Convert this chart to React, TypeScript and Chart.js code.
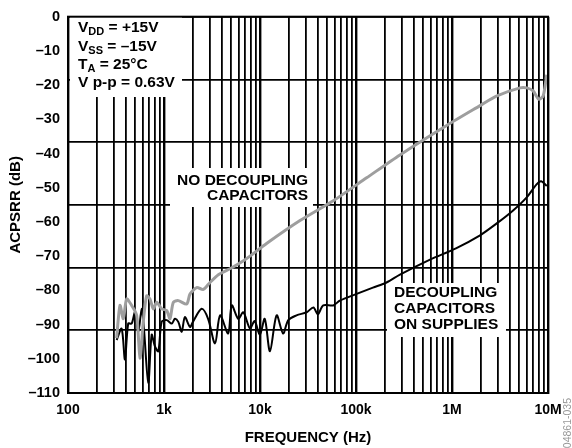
import { useEffect, useRef } from 'react';
import { Chart, registerables } from 'chart.js';

Chart.register(...registerables);

// ---- data ----
const xDecades = [100, 1000, 10000, 100000, 1000000, 10000000];
const xDecadeLabels = ['100', '1k', '10k', '100k', '1M', '10M'];
const yTickValues = [0, -10, -20, -30, -40, -50, -60, -70, -80, -90, -100, -110];
const yGridDivisions = 6;

const noDecFreq = [
  321, 348, 377, 408, 460, 519, 562, 608, 659, 714, 774, 839, 946, 1067, 1155, 1250, 1409, 1722,
  1866, 2191, 2570, 3015, 3680, 5080, 6600, 7860, 11700, 26100, 58000, 129000, 287000, 880000,
  1960000, 2900000, 5100000, 6000000, 7000000, 8000000, 8900000, 9700000,
];
const noDecDb = [
  -94.0, -84.4, -88.3, -82.5, -84.4, -87.3, -99.8, -89.2, -81.6, -82.5, -85.4, -83.5, -85.4, -85.9,
  -88.3, -83.5, -83.0, -84.0, -81.1, -79.2, -79.7, -77.7, -75.4, -73.4, -71.5, -70.0, -66.3, -59.6,
  -53.8, -47.1, -40.4, -31.8, -26.0, -23.2, -20.8, -20.8, -21.7, -24.1, -23.2, -17.0,
];

const decFreq = [
  321, 362, 392, 424, 460, 499, 540, 586, 618, 686, 744, 805, 873, 946, 1067, 1204, 1300, 1409,
  1530, 1650, 1866, 2000, 2470, 2880, 3400, 3840, 4660, 5080, 5940, 6700, 7860, 8800, 9960, 11200,
  12700, 14900, 17400, 19700, 24000, 30600, 36000, 40000, 45600, 58000, 67800, 100000, 150000,
  208000, 287000, 590000, 1100000, 1960000, 2900000, 4300000, 6000000, 7600000, 8500000, 9700000,
];
const decDb = [
  -94.5, -91.2, -100.2, -89.7, -89.7, -86.4, -92.1, -85.4, -91.2, -107.0, -93.0, -96.4, -97.8,
  -89.2, -88.7, -89.7, -88.3, -89.2, -92.1, -87.8, -90.7, -89.2, -85.4, -88.3, -95.5, -87.3, -92.6,
  -84.4, -88.3, -86.4, -91.1, -89.0, -93.0, -88.3, -97.8, -87.3, -92.6, -88.7, -87.3, -86.4, -85.0,
  -87.0, -84.4, -84.4, -83.0, -81.1, -79.2, -77.7, -75.4, -71.0, -67.7, -63.9, -60.5, -56.7, -52.8,
  -49.0, -48.1, -49.5,
];

const FONT = "'Liberation Sans', Arial, Helvetica, sans-serif";

type Part = { t: string; sub?: boolean };

function drawRich(ctx: CanvasRenderingContext2D, x: number, y: number, parts: Part[]) {
  let cx = x;
  for (const p of parts) {
    ctx.font = p.sub ? `bold 11px ${FONT}` : `bold 15.5px ${FONT}`;
    ctx.fillText(p.t, cx, p.sub ? y + 4 : y);
    cx += ctx.measureText(p.t).width;
  }
}

const annotPlugin = {
  id: 'annot',
  beforeDatasetsDraw(chart: any) {
    const ctx: CanvasRenderingContext2D = chart.ctx;
    ctx.save();
    ctx.fillStyle = '#ffffff';
    ctx.fillRect(70, 16, 112, 81);
    ctx.fillRect(170, 168, 143, 39);
    ctx.fillRect(387, 283, 119, 54);
    ctx.fillStyle = '#000000';
    ctx.textBaseline = 'middle';
    ctx.textAlign = 'left';
    drawRich(ctx, 78, 28, [{ t: 'V' }, { t: 'DD', sub: true }, { t: ' = +15V' }]);
    drawRich(ctx, 78, 47, [{ t: 'V' }, { t: 'SS', sub: true }, { t: ' = –15V' }]);
    drawRich(ctx, 78, 65, [{ t: 'T' }, { t: 'A', sub: true }, { t: ' = 25°C' }]);
    drawRich(ctx, 78, 83, [{ t: 'V p-p = 0.63V' }]);
    ctx.font = `bold 15.5px ${FONT}`;
    ctx.textAlign = 'right';
    ctx.fillText('NO DECOUPLING', 308, 181);
    ctx.fillText('CAPACITORS', 308, 196);
    ctx.textAlign = 'left';
    ctx.fillText('DECOUPLING', 394, 293);
    ctx.fillText('CAPACITORS', 394, 309);
    ctx.fillText('ON SUPPLIES', 394, 325);
    ctx.restore();
  },
  afterDatasetsDraw(chart: any) {
    const ctx: CanvasRenderingContext2D = chart.ctx;
    const a = chart.chartArea;
    ctx.save();
    ctx.strokeStyle = '#000';
    ctx.lineWidth = 2;
    ctx.strokeRect(a.left, a.top, a.right - a.left, a.bottom - a.top);
    ctx.restore();
  },
  afterDraw(chart: any) {
    const ctx: CanvasRenderingContext2D = chart.ctx;
    ctx.save();
    ctx.translate(568, 398);
    ctx.rotate(-Math.PI / 2);
    ctx.font = `10.5px ${FONT}`;
    ctx.fillStyle = '#999';
    ctx.textAlign = 'right';
    ctx.textBaseline = 'middle';
    ctx.fillText('04861-035', 0, 0);
    ctx.restore();
  },
};

export default function App() {
  const ref = useRef<HTMLCanvasElement | null>(null);
  useEffect(() => {
    document.body.style.margin = '0';
    const canvas = ref.current!;
    const xTicks: number[] = [];
    for (let e = 2; e <= 6; e++) for (let m = 1; m <= 9; m++) xTicks.push(m * Math.pow(10, e));
    xTicks.push(1e7);
    const yGrid: number[] = [];
    for (let k = 0; k <= yGridDivisions; k++) yGrid.push(-110 + (k * 110) / yGridDivisions);

    const chart = new Chart(canvas, {
      type: 'line',
      data: {
        datasets: [
          {
            label: 'No decoupling capacitors',
            data: noDecFreq.map((f, i) => ({ x: f, y: noDecDb[i] })),
            borderColor: '#9e9e9e',
            borderWidth: 3,
            pointRadius: 0,
            tension: 0.25,
            xAxisID: 'x',
            yAxisID: 'y',
          },
          {
            label: 'Decoupling capacitors on supplies',
            data: decFreq.map((f, i) => ({ x: f, y: decDb[i] })),
            borderColor: '#000000',
            borderWidth: 2,
            pointRadius: 0,
            tension: 0.3,
            xAxisID: 'x',
            yAxisID: 'y',
          },
        ],
      },
      options: {
        responsive: false,
        animation: false,
        layout: { padding: { left: 0, right: 24, top: 9, bottom: 0 } },
        plugins: { legend: { display: false }, tooltip: { enabled: false } },
        scales: {
          x: {
            type: 'logarithmic',
            min: 100,
            max: 1e7,
            afterBuildTicks: (s: any) => {
              s.ticks = xTicks.map((v) => ({ value: v }));
            },
            afterFit: (s: any) => {
              s.height = 55;
            },
            ticks: {
              autoSkip: false,
              maxRotation: 0,
              padding: 9,
              color: '#000',
              font: { family: FONT, size: 14, weight: 'bold' },
              callback: (v: any) => {
                const i = xDecades.indexOf(Number(v));
                return i >= 0 ? xDecadeLabels[i] : '';
              },
            },
            grid: {
              color: '#000',
              lineWidth: (c: any) => (c.tick && xDecades.includes(c.tick.value) ? 2.4 : 1.8),
              drawTicks: false,
            },
            border: { display: true, color: '#000', width: 2 },
            title: {
              display: true,
              text: 'FREQUENCY (Hz)',
              color: '#000',
              font: { family: FONT, size: 15, weight: 'bold' },
              padding: { top: 0, bottom: 1 },
            },
          },
          y: {
            type: 'linear',
            position: 'left',
            min: -110,
            max: 0,
            afterBuildTicks: (s: any) => {
              s.ticks = yTickValues.map((v) => ({ value: v }));
            },
            afterFit: (s: any) => {
              s.width = 68;
            },
            ticks: {
              padding: 8,
              color: '#000',
              font: { family: FONT, size: 14.5, weight: 'bold' },
              callback: (v: any) => (Number(v) === 0 ? '0' : '–' + Math.abs(Number(v))),
            },
            grid: { display: false, drawTicks: false },
            border: { display: true, color: '#000', width: 2 },
            title: {
              display: true,
              text: 'ACPSRR (dB)',
              color: '#000',
              font: { family: FONT, size: 15, weight: 'bold' },
              padding: { top: 6.5, bottom: 0 },
            },
          },
          yg: {
            type: 'linear',
            position: 'left',
            min: -110,
            max: 0,
            afterBuildTicks: (s: any) => {
              s.ticks = yGrid.map((v) => ({ value: v }));
            },
            afterFit: (s: any) => {
              s.width = 0;
            },
            ticks: { display: false },
            grid: { color: '#000', lineWidth: 1.8, drawTicks: false },
            border: { display: false },
          },
        },
      },
      plugins: [annotPlugin],
    } as any);
    return () => chart.destroy();
  }, []);
  return <canvas ref={ref} width={572} height={448} style={{ display: 'block' }} />;
}
